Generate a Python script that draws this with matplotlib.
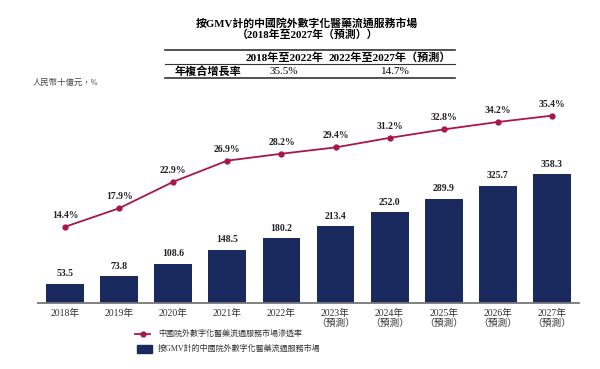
import matplotlib.pyplot as plt
from matplotlib.lines import Line2D
from matplotlib.patches import Rectangle

# --- data ---
years = ["2018年", "2019年", "2020年", "2021年", "2022年",
         "2023年\n（預測）", "2024年\n（預測）", "2025年\n（預測）",
         "2026年\n（預測）", "2027年\n（預測）"]
gmv = [53.5, 73.8, 108.6, 148.5, 180.2, 213.4, 252.0, 289.9, 325.7, 358.3]
penetration = [14.4, 17.9, 22.9, 26.9, 28.2, 29.4, 31.2, 32.8, 34.2, 35.4]

cagr_periods = ["2018年至2022年", "2022年至2027年（預測）"]
cagr_values = ["35.5%", "14.7%"]

title1 = "按GMV計的中國院外數字化醫藥流通服務市場"
title2 = "（2018年至2027年（預測））"
line_label = "中國院外數字化醫藥流通服務市場滲透率"
bar_label = "按GMV計的中國院外數字化醫藥流通服務市場"

navy = "#1b2a5e"
red = "#a8174a"
fonts = ["Liberation Serif", "Noto Sans CJK TC"]
plt.rcParams["font.family"] = fonts

W, H = 600, 369
fig = plt.figure(figsize=(6, 3.69), dpi=100)

def fx(px):
    return px / W

def fy(py):
    return 1 - py / H

ax = fig.add_axes([fx(38), fy(303), fx(579) - fx(38), fy(95) - fy(303)])
ax2 = ax.twinx()

x = list(range(len(years)))
ax.bar(x, gmv, width=0.7, color=navy, zorder=2)
for i, v in enumerate(gmv):
    ax.annotate(f"{v:.1f}", (i, v), xytext=(0, 4), textcoords="offset points",
                ha="center", va="bottom", fontsize=7, fontweight="bold", color="#222222")

ax2.plot(x, penetration, color=red, lw=1.3, marker="o", markersize=3.5, zorder=3)
for i, v in enumerate(penetration):
    ax2.annotate(f"{v:.1f}%", (i, v), xytext=(0, 5), textcoords="offset points",
                 ha="center", va="bottom", fontsize=7, fontweight="bold", color="#222222")

ax.set_xlim(-0.5, 9.5)
ax.set_ylim(0, 578)
ax2.set_ylim(0, 39.3)
ax.set_xticks(x)
ax.set_xticklabels(years, fontsize=7, color="#333333", linespacing=1.15)
ax.tick_params(axis="x", length=0, pad=4)
ax.set_yticks([])
ax2.set_yticks([])
for a in (ax, ax2):
    for s in ["top", "right", "left", "bottom"]:
        a.spines[s].set_visible(False)
ax.spines["bottom"].set_visible(True)
ax.spines["bottom"].set_color("#777777")
ax.spines["bottom"].set_linewidth(1.3)

# title
fig.text(fx(307), fy(23), title1, ha="center", va="center", fontsize=7.8, fontweight="bold")
fig.text(fx(308), fy(35), title2, ha="center", va="center", fontsize=7.8, fontweight="bold")

# CAGR table
fig.add_artist(Line2D([fx(165), fx(455)], [fy(50), fy(50)], color="#333333", lw=1.2))
fig.add_artist(Line2D([fx(165), fx(455)], [fy(64), fy(64)], color="#333333", lw=0.8))
fig.add_artist(Line2D([fx(165), fx(455)], [fy(78), fy(78)], color="#333333", lw=1.2))
fig.text(fx(284), fy(58), cagr_periods[0], ha="center", va="center", fontsize=8, fontweight="bold")
fig.text(fx(390), fy(58), cagr_periods[1], ha="center", va="center", fontsize=8, fontweight="bold")
fig.text(fx(175), fy(71), "年複合增長率", ha="left", va="center", fontsize=8, fontweight="bold")
fig.text(fx(284), fy(71), cagr_values[0], ha="center", va="center", fontsize=8)
fig.text(fx(395), fy(71), cagr_values[1], ha="center", va="center", fontsize=8)

# unit label
fig.text(fx(33), fy(83), "人民幣十億元，%", ha="left", va="center", fontsize=6, color="#444444")

# legend
fig.add_artist(Line2D([fx(135), fx(150)], [fy(334), fy(334)], color=red, lw=1.3))
fig.add_artist(Line2D([fx(142.5)], [fy(334)], color=red, marker="o", markersize=3.5))
fig.text(fx(158), fy(334), line_label, ha="left", va="center", fontsize=5.8, color="#333333")
fig.add_artist(Rectangle((fx(137), fy(353)), fx(152) - fx(137), fy(345) - fy(353),
                         transform=fig.transFigure, color=navy))
fig.text(fx(158), fy(349), bar_label, ha="left", va="center", fontsize=5.8, color="#333333")

fig.savefig("out.png", dpi=100)
